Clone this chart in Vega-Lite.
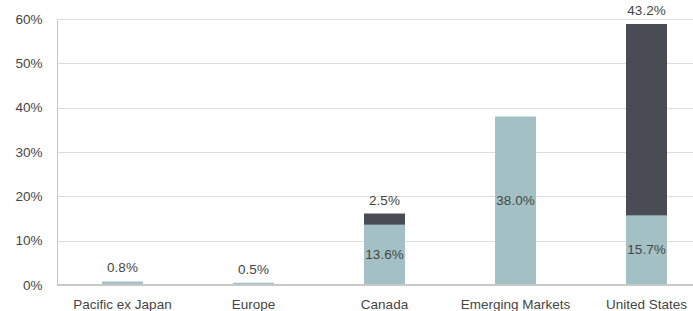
{
  "$schema": "https://vega.github.io/schema/vega-lite/v6.json",
  "autosize": {"type": "none"},
  "padding": {"left": 57, "top": 19, "right": 0, "bottom": 26},
  "width": 655,
  "height": 266,
  "background": "white",
  "config": {
    "view": {"stroke": null},
    "font": "Liberation Sans",
    "axis": {"labelFont": "Liberation Sans", "labelFontSize": 13.5, "labelColor": "#454545", "labelOverlap": false}
  },
  "data": {
    "values": [
      {"region": "Pacific ex Japan", "segment": "lower", "value": 0.008},
      {"region": "Europe", "segment": "lower", "value": 0.005},
      {"region": "Canada", "segment": "lower", "value": 0.136},
      {"region": "Canada", "segment": "upper", "value": 0.025},
      {"region": "Emerging Markets", "segment": "lower", "value": 0.38},
      {"region": "United States", "segment": "lower", "value": 0.157},
      {"region": "United States", "segment": "upper", "value": 0.432}
    ]
  },
  "transform": [
    {"stack": "value", "groupby": ["region"], "sort": [{"field": "segment", "order": "ascending"}], "as": ["y0", "y1"]},
    {"calculate": "(datum.y0 + datum.y1) / 2", "as": "ymid"}
  ],
  "encoding": {
    "x": {
      "field": "region",
      "type": "nominal",
      "sort": ["Pacific ex Japan", "Europe", "Canada", "Emerging Markets", "United States"],
      "scale": {"paddingInner": 0.687, "paddingOuter": 0.3435},
      "axis": {"title": null, "labelAngle": 0, "ticks": false, "domain": false, "labelPadding": 12}
    }
  },
  "layer": [
    {
      "mark": {"type": "bar"},
      "encoding": {
        "y": {
          "field": "y0",
          "type": "quantitative",
          "scale": {"domain": [0, 0.6], "nice": false},
          "axis": {
            "title": null,
            "format": ".0%",
            "values": [0, 0.1, 0.2, 0.3, 0.4, 0.5, 0.6],
            "ticks": false,
            "domain": true,
            "domainColor": "#c8c8c8",
            "grid": true,
            "gridColor": "#dcdcdc",
            "labelPadding": 15
          }
        },
        "y2": {"field": "y1"},
        "color": {
          "field": "segment",
          "type": "nominal",
          "scale": {"domain": ["lower", "upper"], "range": ["#a3c1c5", "#4a4c55"]},
          "legend": null
        }
      }
    },
    {
      "mark": {"type": "rule", "color": "#c8c8c8", "strokeWidth": 1},
      "encoding": {"y": {"datum": 0, "type": "quantitative"}, "x": {"value": 0}, "x2": {"value": 655}}
    },
    {
      "transform": [{"filter": "datum.segment == 'lower' && datum.value >= 0.05"}],
      "mark": {"type": "text", "fontSize": 13.5, "color": "#454545", "baseline": "middle"},
      "encoding": {
        "y": {"field": "ymid", "type": "quantitative"},
        "text": {"field": "value", "type": "quantitative", "format": ".1%"}
      }
    },
    {
      "transform": [{"filter": "datum.segment == 'upper' || datum.value < 0.05"}],
      "mark": {"type": "text", "fontSize": 13.5, "color": "#454545", "baseline": "middle", "dy": -13},
      "encoding": {
        "y": {"field": "y1", "type": "quantitative"},
        "text": {"field": "value", "type": "quantitative", "format": ".1%"}
      }
    }
  ]
}
